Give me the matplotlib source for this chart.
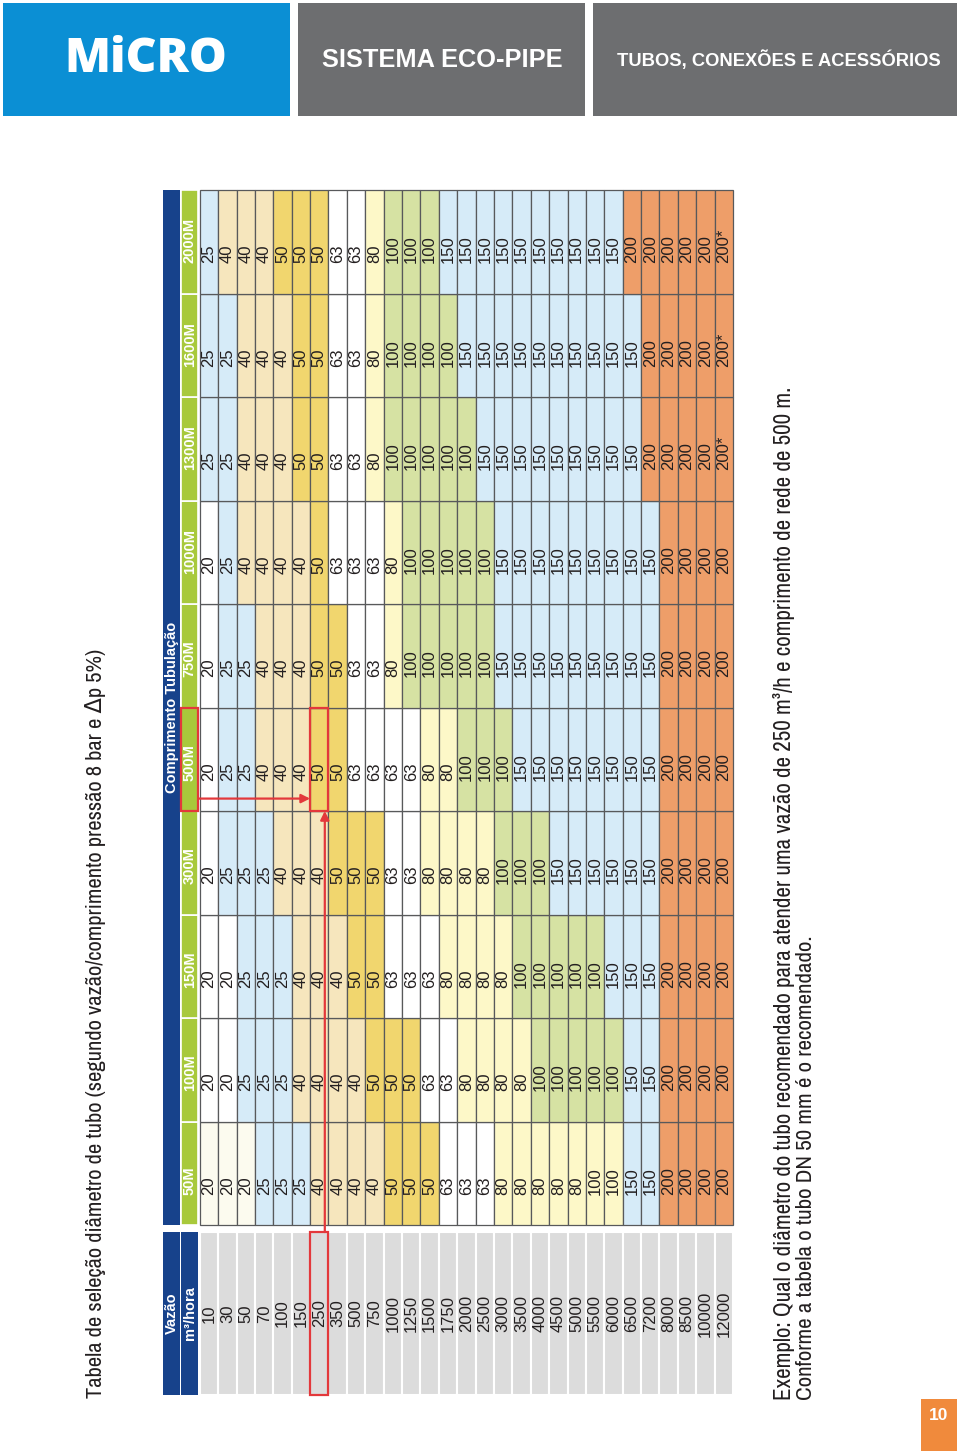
import matplotlib
matplotlib.use("Agg")
import matplotlib.pyplot as plt
from matplotlib import font_manager as fm
from matplotlib.patches import Rectangle

W, H = 960, 1451

# ------------------ dados da tabela ------------------
vazao = [10, 30, 50, 70, 100, 150, 250, 350, 500, 750, 1000, 1250, 1500, 1750,
         2000, 2500, 3000, 3500, 4000, 4500, 5000, 5500, 6000, 6500, 7200,
         8000, 8500, 10000, 12000]
comprimentos = ["50M", "100M", "150M", "300M", "500M", "750M",
                "1000M", "1300M", "1600M", "2000M"]

d_50M = ["20", "20", "20", "25", "25", "25", "40", "40", "40", "40", "50", "50", "50",
         "63", "63", "63", "80", "80", "80", "80", "80", "100", "100", "150", "150",
         "200", "200", "200", "200"]
d_100M = ["20", "20", "25", "25", "25", "40", "40", "40", "40", "50", "50", "50",
          "63", "63", "80", "80", "80", "80", "100", "100", "100", "100", "100",
          "150", "150", "200", "200", "200", "200"]
d_150M = ["20", "20", "25", "25", "25", "40", "40", "40", "50", "50", "63", "63", "63",
          "80", "80", "80", "80", "100", "100", "100", "100", "100", "150", "150",
          "150", "200", "200", "200", "200"]
d_300M = ["20", "25", "25", "25", "40", "40", "40", "50", "50", "50", "63", "63",
          "80", "80", "80", "80", "100", "100", "100", "150", "150", "150", "150",
          "150", "150", "200", "200", "200", "200"]
d_500M = ["20", "25", "25", "40", "40", "40", "50", "50", "63", "63", "63", "63",
          "80", "80", "100", "100", "100", "150", "150", "150", "150", "150", "150",
          "150", "150", "200", "200", "200", "200"]
d_750M = ["20", "25", "25", "40", "40", "40", "50", "50", "63", "63", "80", "100",
          "100", "100", "100", "100", "150", "150", "150", "150", "150", "150",
          "150", "150", "150", "200", "200", "200", "200"]
d_1000M = ["20", "25", "40", "40", "40", "40", "50", "63", "63", "63", "80", "100",
           "100", "100", "100", "100", "150", "150", "150", "150", "150", "150",
           "150", "150", "150", "200", "200", "200", "200"]
d_1300M = ["25", "25", "40", "40", "40", "50", "50", "63", "63", "80", "100", "100",
           "100", "100", "100", "150", "150", "150", "150", "150", "150", "150",
           "150", "150", "200", "200", "200", "200", "200*"]
d_1600M = ["25", "25", "40", "40", "40", "50", "50", "63", "63", "80", "100", "100",
           "100", "100", "150", "150", "150", "150", "150", "150", "150", "150",
           "150", "150", "200", "200", "200", "200", "200*"]
d_2000M = ["25", "40", "40", "40", "50", "50", "50", "63", "63", "80", "100", "100",
           "100", "150", "150", "150", "150", "150", "150", "150", "150", "150",
           "150", "200", "200", "200", "200", "200", "200*"]
diametros = [d_50M, d_100M, d_150M, d_300M, d_500M, d_750M,
             d_1000M, d_1300M, d_1600M, d_2000M]

# exemplo: 250 m3/h e 500 m
ex_vazao = 250
ex_comp = "500M"

# ------------------ cores ------------------
COR = {"20": "#ffffff", "25": "#d6ebf8", "40": "#f6e6bd", "50": "#f1d66e",
       "63": "#ffffff", "80": "#fdf8c8", "100": "#d6e2a3", "150": "#d6ebf8",
       "200": "#ee9e69"}
# celulas que fogem da regra (coluna, linha)
COR_EXC = {(0, 0): "#fcfbef", (0, 1): "#fcfbef", (0, 2): "#fcfbef",
           (0, 21): "#fdf8c8", (0, 22): "#fdf8c8"}
AZUL = "#17428b"
VERDE = "#a8c93b"
CINZA = "#dcdcdc"
LINHA = "#58595b"
VERMELHO = "#e3383b"
TEXTO = "#231f20"

REG = "Liberation Sans"
# fonte condensada, se existir alguma
_nomes = sorted({f.name for f in fm.fontManager.ttflist})
_cond = [n for n in _nomes if "Narrow" in n] + \
        [n for n in _nomes if "Condensed" in n]
NARROW = [_cond[0], "DejaVu Sans"] if _cond else [REG, "DejaVu Sans"]

fig = plt.figure(figsize=(W / 100, H / 100), dpi=100)
renderer = fig.canvas.get_renderer()


def fit(t, length, vertical=False):
    bb = t.get_window_extent(renderer)
    cur = bb.height if vertical else bb.width
    t.set_fontsize(t.get_fontsize() * length / cur)


# ------------------ pagina (cabecalho, titulos) ------------------
page = fig.add_axes([0, 0, 1, 1])
page.set_xlim(0, W)
page.set_ylim(H, 0)
page.axis("off")

page.add_patch(Rectangle((3, 3), 287, 113, fc="#0b8fd4", ec="none"))
page.add_patch(Rectangle((298, 3), 287, 113, fc="#6d6e70", ec="none"))
page.add_patch(Rectangle((593, 3), 364, 113, fc="#6d6e70", ec="none"))

t = page.text(146, 60, "MiCRO", color="white", fontsize=40, fontweight="heavy",
              family="Open Sans", ha="center", va="center")
fit(t, 163)
t = page.text(442, 60, "SISTEMA ECO-PIPE", color="white", fontsize=20,
              fontweight="bold", family=REG, ha="center", va="center")
fit(t, 240)
t = page.text(779, 60, "TUBOS, CONEXÕES E ACESSÓRIOS", color="white", fontsize=12,
              fontweight="bold", family=REG, ha="center", va="center")
fit(t, 321)

t = page.text(95, 1398, "Tabela de seleção diâmetro de tubo (segundo vazão/comprimento "
              "pressão 8 bar e Δp 5%)", color=TEXTO, fontsize=14, family=NARROW,
              rotation=90, rotation_mode="anchor", ha="left", va="center")
fit(t, 748, vertical=True)

t = page.text(784, 1400, "Exemplo: Qual o diâmetro do tubo recomendado para atender uma "
              "vazão de 250 m³/h e comprimento de rede de 500 m.", color=TEXTO,
              fontsize=14, family=NARROW, rotation=90, rotation_mode="anchor",
              ha="left", va="center")
fit(t, 1015, vertical=True)
t = page.text(806, 1400, "Conforme a tabela o tubo DN 50 mm é o recomendado.",
              color=TEXTO, fontsize=14, family=NARROW, rotation=90,
              rotation_mode="anchor", ha="left", va="center")
fit(t, 465, vertical=True)

page.add_patch(Rectangle((921, 1399), 36, 52, fc="#f08a3c", ec="none"))
page.text(939, 1415, "10", color="white", fontsize=12.5, fontweight="bold",
          family=REG, ha="center", va="center")

# ------------------ tabela (linhas = vazao no eixo x, colunas = comprimento no y) ---
ax = fig.add_axes([163 / W, (H - 1395) / H, 570 / W, 1205 / H])
ax.set_xlim(-2, len(vazao))
ax.set_ylim(len(comprimentos) - 1205 / 103.5, len(comprimentos))
ax.axis("off")

vz_bot = len(comprimentos) - 1205 / 103.5
vz_top = -0.068
vz_mid = (vz_bot + vz_top) / 2
nc = len(comprimentos)
FS_NUM = 12
FS_HEAD = 10.5

# cabecalho
ax.add_patch(Rectangle((-2, vz_bot), 0.93, vz_top - vz_bot, fc=AZUL, ec="none"))
ax.add_patch(Rectangle((-1, vz_bot), 0.92, vz_top - vz_bot, fc=AZUL, ec="none"))
ax.add_patch(Rectangle((-2, 0), 0.93, nc, fc=AZUL, ec="none"))
ax.text(-1.53, vz_mid, "Vazão", color="white", fontsize=FS_HEAD, fontweight="bold",
        family=REG, rotation=90, ha="center", va="center")
ax.text(-0.54, vz_mid, "m³/hora", color="white", fontsize=FS_HEAD, fontweight="bold",
        family=REG, rotation=90, ha="center", va="center")
ax.text(-1.53, nc / 2, "Comprimento Tubulação", color="white", fontsize=FS_HEAD,
        fontweight="bold", family=REG, rotation=90, ha="center", va="center")

for j, nome in enumerate(comprimentos):
    ax.add_patch(Rectangle((-1, j), 0.92, 1, fc=VERDE, ec="white", lw=1.2,
                           clip_on=False))
    ax.text(-0.54, j + 0.29, nome, color="white", fontsize=FS_HEAD,
            fontweight="bold", family=REG, rotation=90, rotation_mode="anchor",
            ha="left", va="center")

# coluna de vazao
for i, v in enumerate(vazao):
    ax.add_patch(Rectangle((i, vz_bot), 1, vz_top - vz_bot, fc=CINZA, ec="white",
                           lw=1.5, clip_on=False))
    ax.text(i + 0.5, vz_mid, str(v), color=TEXTO, fontsize=FS_NUM, family=REG,
            rotation=90, ha="center", va="center")

# celulas de diametro
for j, col in enumerate(diametros):
    for i, d in enumerate(col):
        cor = COR_EXC.get((j, i), COR[d.rstrip("*")])
        ax.add_patch(Rectangle((i, j), 1, 1, fc=cor, ec=LINHA, lw=0.9,
                               clip_on=False))
        ax.text(i + 0.5, j + 0.29, d, color=TEXTO, fontsize=FS_NUM, family=REG,
                rotation=90, rotation_mode="anchor", ha="left", va="center")

# ------------------ marcacao do exemplo ------------------
ie = vazao.index(ex_vazao)
je = comprimentos.index(ex_comp)
kw = dict(fill=False, ec=VERMELHO, lw=1.6, clip_on=False, zorder=5)
ax.add_patch(Rectangle((-1, je), 0.92, 1, **kw))
ax.add_patch(Rectangle((ie, je), 1, 1, **kw))
ax.add_patch(Rectangle((ie, vz_bot), 1, vz_top - vz_bot, **kw))
arrow = dict(arrowstyle="-|>", color=VERMELHO, lw=1.6, mutation_scale=13,
             shrinkA=0, shrinkB=0)
ax.annotate("", xy=(ie + 0.8, je), xytext=(ie + 0.8, vz_top),
            arrowprops=arrow, zorder=6)
ax.annotate("", xy=(ie, je + 0.12), xytext=(-0.08, je + 0.12),
            arrowprops=arrow, zorder=6)

fig.savefig("out.png", dpi=100)
